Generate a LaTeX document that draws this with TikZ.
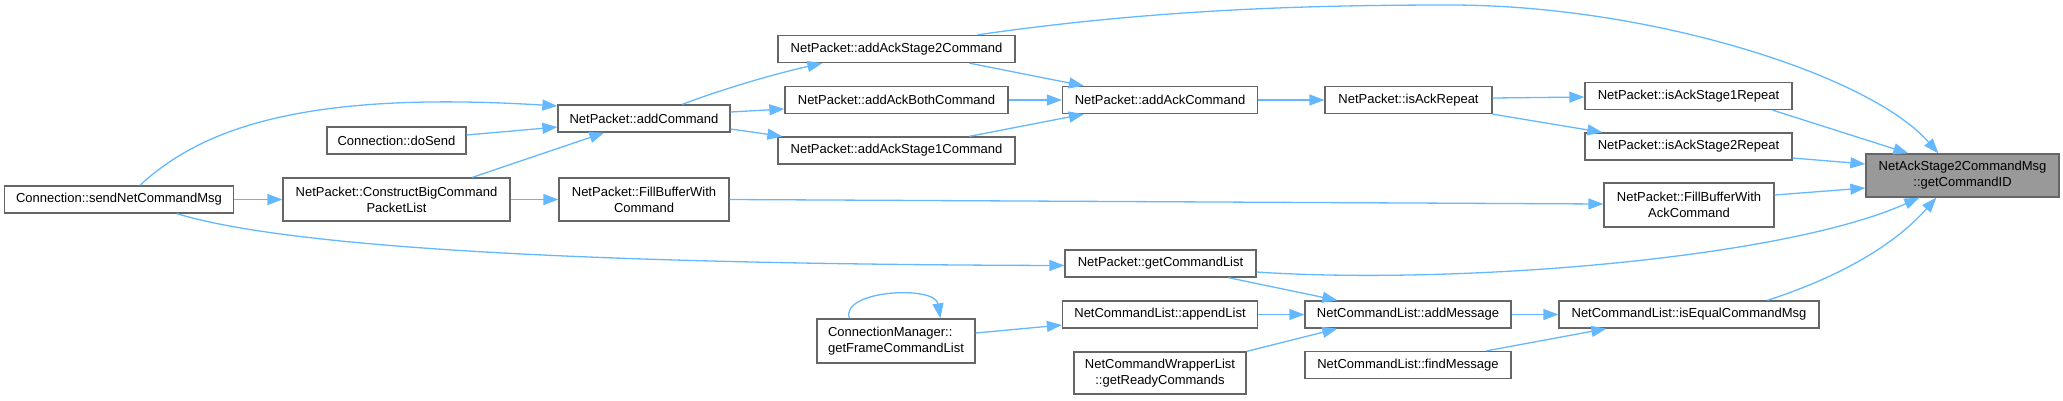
\documentclass[tikz,border=0pt]{standalone}
\usepackage{fontspec}
\setmainfont{Liberation Sans}
\usetikzlibrary{arrows.meta}
\definecolor{edgec}{HTML}{63B8FF}
\definecolor{boxc}{HTML}{666666}
\definecolor{hic}{HTML}{999999}
\begin{document}
\begin{tikzpicture}[x=1pt,y=-1pt,
 fn/.style={draw=boxc, fill=white, line width=1.3pt, inner sep=0pt, font=\fontsize{13}{16}\selectfont, align=center, minimum height=27pt},
 fntwo/.style={fn, minimum height=43pt},
 edge/.style={draw=edgec, line width=1.3pt, -{Triangle[length=15pt,width=11pt]}}]
\useasboundingbox (0,0) rectangle (2063,400);

% nodes
\node[fn, minimum width=229pt] (sn) at (119,199.5) {Connection::sendNetCommandMsg};
\node[fn, minimum width=139pt] (ds) at (396.5,140.5) {Connection::doSend};
\node[fntwo, minimum width=227pt] (cb) at (396.5,199.5) {NetPacket::ConstructBigCommand\\PacketList};
\node[fn, minimum width=172pt] (ac) at (644,118.5) {NetPacket::addCommand};
\node[fntwo, minimum width=170pt] (fb) at (644,199.5) {NetPacket::FillBufferWith\\Command};
\node[fn, minimum width=237pt] (s2) at (896.5,49) {NetPacket::addAckStage2Command};
\node[fn, minimum width=223pt] (both) at (896.5,100) {NetPacket::addAckBothCommand};
\node[fn, minimum width=237pt] (s1) at (896.5,150.5) {NetPacket::addAckStage1Command};
\node[fntwo, minimum width=158pt, minimum height=44pt, align=left] (gf) at (896,341) {ConnectionManager::\\getFrameCommandList};
\node[fn, minimum width=195pt] (ack) at (1160,100) {NetPacket::addAckCommand};
\node[fn, minimum width=191pt] (gcl) at (1160.5,263.5) {NetPacket::getCommandList};
\node[fn, minimum width=195pt] (al) at (1160,314.5) {NetCommandList::appendList};
\node[fntwo, minimum width=172pt, minimum height=42pt] (rc) at (1160,373) {NetCommandWrapperList\\::getReadyCommands};
\node[fn, minimum width=167pt] (rep) at (1408.5,100) {NetPacket::isAckRepeat};
\node[fn, minimum width=206pt] (am) at (1408,314.5) {NetCommandList::addMessage};
\node[fn, minimum width=206pt] (fm) at (1408,365) {NetCommandList::findMessage};
\node[fn, minimum width=207pt] (r1) at (1688.5,96) {NetPacket::isAckStage1Repeat};
\node[fn, minimum width=207pt] (r2) at (1688.5,146.5) {NetPacket::isAckStage2Repeat};
\node[fntwo, minimum width=170pt, minimum height=44pt] (af) at (1689,205) {NetPacket::FillBufferWith\\AckCommand};
\node[fn, minimum width=260pt] (ie) at (1689,314.5) {NetCommandList::isEqualCommandMsg};
\node[fntwo, minimum width=193pt, fill=hic] (gid) at (1962.5,175.5) {NetAckStage2CommandMsg\\::getCommandID};

% edges
\draw[edge] ([xshift=200pt]s2.north west) .. controls (1150,10) and (1300,5) .. (1450,5)
  .. controls (1650,5) and (1870,75) .. ([xshift=73pt]gid.north west);
\draw[edge] ([xshift=192pt]s2.south west) -- ([xshift=22pt]ack.north west);
\draw[edge] (both.east) -- (ack.west);
\draw[edge] ([xshift=192pt]s1.north west) -- ([xshift=22pt]ack.south west);
\draw[edge] (ack.east) -- (rep.west);
\draw[edge] ([yshift=2pt]rep.east) -- ([yshift=-1pt]r1.west);
\draw[edge] (rep.south east) -- ([xshift=18pt]r2.north west);
\draw[edge] ([xshift=-20pt]r1.south east) -- ([xshift=43pt]gid.north west);
\draw[edge] ([yshift=-11.5pt]r2.east) -- ([yshift=11.5pt]gid.west);
\draw[edge] ([yshift=10pt]af.east) -- ([yshift=-12.5pt]gid.west);
\draw[edge] ([yshift=-8.5pt]gcl.east) .. controls (1450,285) and (1780,260) .. ([xshift=54pt]gid.south west);
\draw[edge] ([xshift=209pt]ie.north west) .. controls (1830,280) and (1890,250) .. ([xshift=71pt]gid.south west);
\draw[edge] ([xshift=125pt]ac.north west) .. controls (720,90) and (770,75) .. ([xshift=45pt]s2.south west);
\draw[edge] ([yshift=6.5pt]ac.east) -- ([yshift=-9pt]both.west);
\draw[edge] ([yshift=-10.5pt]ac.east) -- ([xshift=5pt]s1.north west);
\draw[edge] ([yshift=5.5pt]ds.east) -- ([yshift=-8.5pt]ac.west);
\draw[edge] ([xshift=190pt]cb.north west) -- ([xshift=47pt]ac.south west);
\draw[edge] ([xshift=136pt]sn.north west) .. controls (200,130) and (300,90) .. ([yshift=12.5pt]ac.west);
\draw[edge] (sn.east) -- (cb.west);
\draw[edge] (cb.east) -- (fb.west);
\draw[edge] (fb.east) -- ([yshift=1pt]af.west);
\draw[edge] ([xshift=173pt]sn.south west) .. controls (280,245) and (550,264) .. ([yshift=-2pt]gcl.west);
\draw[edge] ([xshift=164pt]gcl.south west) -- ([xshift=33pt]am.north west);
\draw[edge] (al.east) -- (am.west);
\draw[edge] (rc.north east) -- ([xshift=33pt]am.south west);
\draw[edge] ([yshift=8pt]gf.east) -- ([yshift=-10.5pt]al.west);
\draw[edge] ([xshift=33pt]gf.north west) .. controls (840,290) and (935,285) .. ([xshift=124pt]gf.north west);
\draw[edge] (am.east) -- (ie.west);
\draw[edge] ([xshift=182pt]fm.north west) -- ([xshift=48pt]ie.south west);
\end{tikzpicture}
\end{document}
